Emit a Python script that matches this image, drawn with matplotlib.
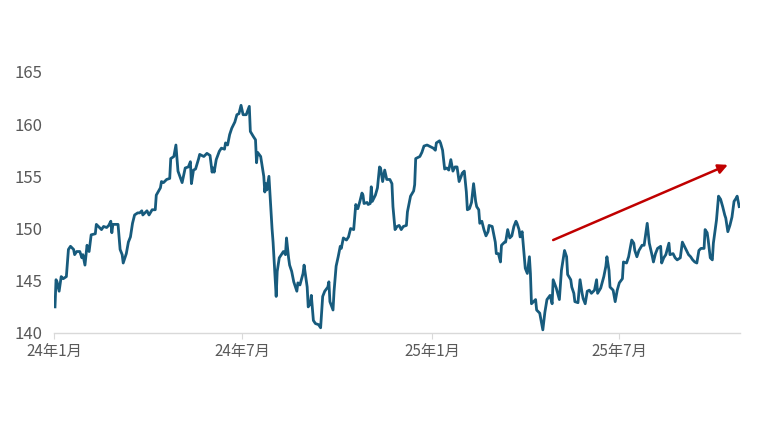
import matplotlib
matplotlib.use("Agg")
import matplotlib.pyplot as plt
import pandas as pd

plt.rcParams['font.family'] = ['Noto Sans CJK JP', 'DejaVu Sans']

# 2024-01-01からの経過日数
days = [
    1, 2, 3, 5, 7, 9, 12, 14, 16, 19, 20, 22, 25, 27, 28, 30, 32, 34, 36, 40,
    41, 44, 46, 48, 51, 53, 55, 56, 57, 62, 64, 66, 67, 70, 72, 74, 76, 78, 81, 83,
    85, 86, 90, 92, 95, 98, 99, 103, 104, 106, 109, 112, 113, 116, 118, 120, 124, 127, 130, 132,
    133, 135, 137, 140, 141, 145, 148, 151, 153, 154, 155, 157, 160, 162, 165, 166, 168, 170, 172, 175,
    177, 179, 181, 183, 186, 189, 190, 193, 195, 196, 197, 200, 203, 204, 205, 206, 208, 211, 212, 215,
    216, 218, 222, 224, 225, 227, 228, 230, 232, 235, 236, 238, 241, 242, 245, 246, 248, 249, 251, 253,
    256, 258, 260, 262, 265, 266, 267, 270, 271, 273, 275, 277, 278, 280, 283, 285, 287, 290, 292, 294,
    296, 298, 299, 300, 303, 304, 306, 307, 308, 311, 313, 315, 316, 318, 320, 322, 325, 327, 328, 330,
    332, 334, 336, 338, 341, 342, 344, 345, 348, 349, 350, 354, 356, 358, 361, 363, 367, 369, 370, 373,
    374, 376, 378, 380, 382, 384, 386, 388, 390, 392, 394, 395, 397, 399, 400, 402, 404, 406, 408, 409,
    411, 412, 414, 416, 418, 420, 421, 424, 425, 427, 428, 430, 432, 433, 436, 437, 439, 441, 443, 445,
    447, 448, 450, 451, 453, 456, 458, 460, 461, 462, 466, 467, 470, 473, 475, 477, 480, 482, 483, 486,
    489, 491, 494, 496, 497, 500, 501, 503, 504, 507, 509, 511, 512, 514, 516, 518, 520, 523, 525, 526,
    529, 532, 534, 535, 537, 538, 541, 543, 545, 547, 550, 551, 554, 556, 559, 561, 562, 564, 566, 569,
    571, 574, 576, 579, 580, 582, 584, 587, 588, 590, 592, 595, 596, 599, 601, 603, 606, 608, 610, 612,
    614, 616, 618, 620, 622, 624, 626, 629, 630, 632, 633, 635, 637, 638, 641, 643, 645, 647, 649, 650,
    652, 654, 656, 658, 660, 661, 663,
]

rate = [
    142.5, 145.1, 144.9, 144.0, 145.4, 145.2, 145.4, 148.0, 148.3, 148.0, 147.5, 147.8, 147.8, 147.2, 147.5, 146.5, 148.4, 147.8, 149.4, 149.5,
    150.4, 150.1, 149.9, 150.2, 150.1, 150.3, 150.7, 149.6, 150.4, 150.4, 148.0, 147.5, 146.7, 147.6, 148.7, 149.2, 150.5, 151.3, 151.5, 151.5,
    151.7, 151.3, 151.7, 151.3, 151.8, 151.8, 153.2, 153.9, 154.5, 154.4, 154.7, 154.8, 156.7, 156.9, 158.0, 155.5, 154.4, 155.8, 155.9, 156.4,
    154.3, 155.6, 155.7, 156.7, 157.1, 156.9, 157.2, 157.0, 155.4, 155.8, 155.4, 156.6, 157.4, 157.7, 157.6, 158.2, 158.0, 159.0, 159.6, 160.2,
    160.9, 161.0, 161.8, 160.9, 160.9, 161.7, 159.3, 158.8, 158.5, 156.3, 157.3, 156.9, 155.0, 153.5, 154.3, 153.7, 155.0, 150.0, 148.7, 143.5,
    145.9, 147.2, 147.8, 147.5, 149.1, 147.2, 146.5, 145.9, 144.9, 144.0, 144.8, 144.6, 145.7, 146.5, 144.4, 142.5, 142.8, 143.6, 141.2, 140.9,
    140.8, 140.5, 143.5, 144.0, 144.4, 144.9, 143.0, 142.2, 144.0, 146.4, 147.3, 148.3, 148.1, 149.1, 148.9, 149.2, 150.0, 149.9, 152.3, 151.9,
    152.6, 153.4, 153.2, 152.4, 152.5, 152.3, 152.4, 154.0, 152.6, 153.2, 153.9, 155.9, 155.8, 154.5, 155.6, 154.7, 154.7, 154.3, 152.1, 149.9,
    150.2, 150.3, 149.9, 150.2, 150.3, 151.6, 152.6, 153.1, 153.6, 154.2, 156.7, 156.9, 157.3, 157.9, 158.0, 157.9, 157.7, 157.5, 158.2, 158.4,
    158.2, 157.5, 155.7, 155.8, 155.6, 156.6, 155.5, 155.9, 155.9, 154.5, 155.0, 155.3, 155.5, 153.5, 151.8, 151.9, 152.5, 154.3, 152.6, 152.1,
    151.8, 150.5, 150.7, 149.9, 149.3, 149.7, 150.3, 150.2, 149.7, 148.7, 147.6, 147.6, 146.8, 148.4, 148.7, 148.7, 149.9, 149.1, 149.3, 150.2,
    150.7, 150.5, 149.9, 149.2, 149.7, 146.2, 145.7, 147.3, 145.7, 142.8, 143.2, 142.2, 141.9, 140.3, 142.0, 143.2, 143.6, 142.8, 145.1, 144.3,
    143.2, 146.0, 147.9, 147.3, 145.6, 145.1, 144.4, 143.8, 143.0, 142.9, 145.1, 143.8, 143.3, 142.8, 144.0, 144.1, 143.8, 144.1, 145.1, 143.8,
    144.3, 145.4, 146.4, 147.3, 146.0, 144.4, 144.1, 143.0, 144.1, 144.8, 145.2, 146.8, 146.7, 147.3, 148.9, 148.6, 147.9, 147.3, 147.9, 148.4,
    148.4, 150.5, 148.6, 147.3, 146.8, 147.6, 148.1, 148.3, 146.7, 147.2, 147.5, 148.6, 147.5, 147.6, 147.2, 147.0, 147.2, 148.7, 148.3, 147.9,
    147.5, 147.3, 147.0, 146.8, 146.7, 147.9, 148.1, 148.1, 149.9, 149.6, 148.9, 147.2, 147.0, 148.6, 150.8, 153.1, 152.8, 152.1, 151.3, 151.0,
    149.7, 150.3, 151.1, 152.6, 152.9, 153.1, 152.1,
]

tick_dates = ['2024-01-01', '2024-07-01', '2025-01-01', '2025-07-01']
tick_labels = ['24年1月', '24年7月', '25年1月', '25年7月']
y_ticks = [140, 145, 150, 155, 160, 165]

# 矢印（上昇トレンド）
arrow_start = ('2025-04-28', 148.9)
arrow_end = ('2025-10-14', 156.1)

base = pd.Timestamp('2024-01-01')
dates = base + pd.to_timedelta(days, unit='D')

fig = plt.figure(figsize=(7.6, 4.28), dpi=100)
ax = fig.add_axes([0.071, 0.222, 0.903, 0.61])

ax.plot(dates, rate, color='#175b7d', linewidth=2.0, solid_joinstyle='round')

ax.annotate('', xy=(pd.Timestamp(arrow_end[0]), arrow_end[1]),
            xytext=(pd.Timestamp(arrow_start[0]), arrow_start[1]),
            arrowprops=dict(arrowstyle='-|>', color='#c00000', lw=1.8,
                            mutation_scale=14, shrinkA=0, shrinkB=0))

ax.set_xlim(base, base + pd.Timedelta(days=664))
ax.set_ylim(140, 165)
ax.set_yticks(y_ticks)
ax.set_xticks(pd.to_datetime(tick_dates))
ax.set_xticklabels(tick_labels)

for s in ['top', 'right', 'left']:
    ax.spines[s].set_visible(False)
ax.spines['bottom'].set_color('#d9d9d9')
ax.spines['bottom'].set_linewidth(1.0)

ax.tick_params(axis='y', length=0, pad=8, labelsize=12, labelcolor='#595959')
ax.tick_params(axis='x', length=4, color='#d9d9d9', pad=3, labelsize=11, labelcolor='#595959')

fig.savefig('out.png', dpi=100)
